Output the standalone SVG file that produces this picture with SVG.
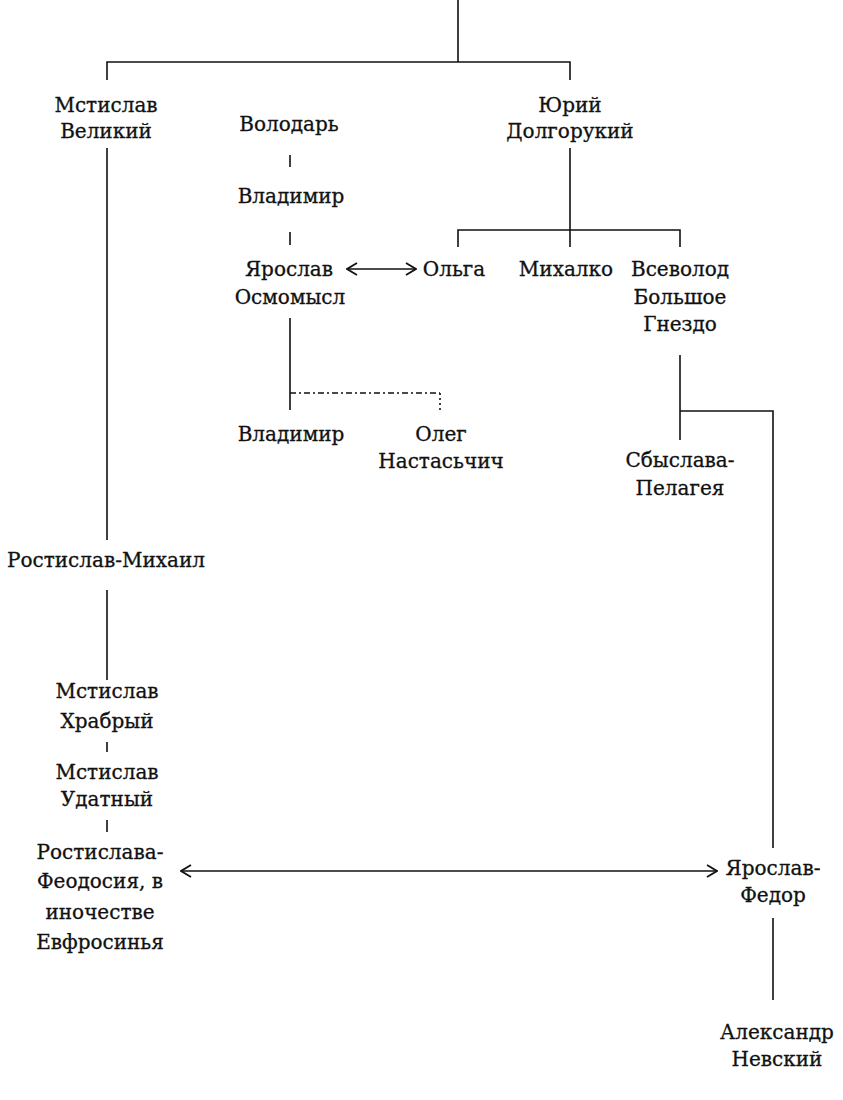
<svg xmlns="http://www.w3.org/2000/svg" width="843" height="1100" viewBox="0 0 843 1100">
<defs>
<style>
text{font-family:"DejaVu Serif","Liberation Serif",serif;font-size:20px;fill:#111;stroke:#111;stroke-width:0.3;text-anchor:middle}
.ln{stroke:#111;stroke-width:1.6;fill:none}
.dd{stroke:#111;stroke-width:1.6;fill:none;stroke-dasharray:6 3 2 3}
.dt{stroke:#111;stroke-width:1.6;fill:none;stroke-dasharray:2 3}
</style>
<marker id="ah" viewBox="0 0 12 14" refX="11" refY="7" markerWidth="12" markerHeight="14" markerUnits="userSpaceOnUse" orient="auto-start-reverse">
<path d="M1,1 L11,7 L1,13" fill="none" stroke="#111" stroke-width="1.8"/>
</marker>
</defs>
<rect width="843" height="1100" fill="#fff"/>
<g id="connectors">
<path class="ln" d="M458,0 V62 M107,80 V62 H570 V80"/>
<path class="ln" d="M107,148 V540 M107,590 V680 M107,742 V752 M107,820 V832"/>
<path class="ln" d="M290,155 V167 M290,232 V245 M290,318 V410"/>
<path class="dd" d="M290,393 H440"/>
<path class="dt" d="M440,393 V410"/>
<path class="ln" d="M570,148 V247 M458,247 V230 H680 V247"/>
<path class="ln" d="M680,355 V440 M680,411 H773 V848 M773,918 V1000"/>
<line class="ln" x1="347" y1="269" x2="416" y2="269" marker-start="url(#ah)" marker-end="url(#ah)"/>
<line class="ln" x1="181" y1="871" x2="717" y2="871" marker-start="url(#ah)" marker-end="url(#ah)"/>
</g>
<g id="mstislav-velikiy"><text x="106" y="112">Мстислав</text><text x="106" y="138">Великий</text></g>
<g id="volodar"><text x="289" y="131">Володарь</text></g>
<g id="yuriy"><text x="570" y="112">Юрий</text><text x="570" y="138">Долгорукий</text></g>
<g id="vladimir1"><text x="291" y="203">Владимир</text></g>
<g id="yaroslav-osmomysl"><text x="289" y="276">Ярослав</text><text x="290" y="304">Осмомысл</text></g>
<g id="olga"><text x="454" y="276">Ольга</text></g>
<g id="mikhalko"><text x="566" y="276">Михалко</text></g>
<g id="vsevolod"><text x="680" y="276">Всеволод</text><text x="680" y="304">Большое</text><text x="680" y="331">Гнездо</text></g>
<g id="vladimir2"><text x="291" y="441">Владимир</text></g>
<g id="oleg"><text x="441" y="441">Олег</text><text x="441" y="468">Настасьчич</text></g>
<g id="sbyslava"><text x="680" y="467">Сбыслава-</text><text x="680" y="495">Пелагея</text></g>
<g id="rostislav-mikhail"><text x="106" y="567">Ростислав-Михаил</text></g>
<g id="mstislav-khrabryy"><text x="107" y="698">Мстислав</text><text x="107" y="728">Храбрый</text></g>
<g id="mstislav-udatnyy"><text x="107" y="779">Мстислав</text><text x="107" y="806">Удатный</text></g>
<g id="rostislava"><text x="100" y="859">Ростислава-</text><text x="100" y="888">Феодосия, в</text><text x="100" y="919">иночестве</text><text x="100" y="949">Евфросинья</text></g>
<g id="yaroslav-fedor"><text x="773" y="875">Ярослав-</text><text x="773" y="902">Федор</text></g>
<g id="aleksandr"><text x="777" y="1039">Александр</text><text x="777" y="1066">Невский</text></g>
</svg>
